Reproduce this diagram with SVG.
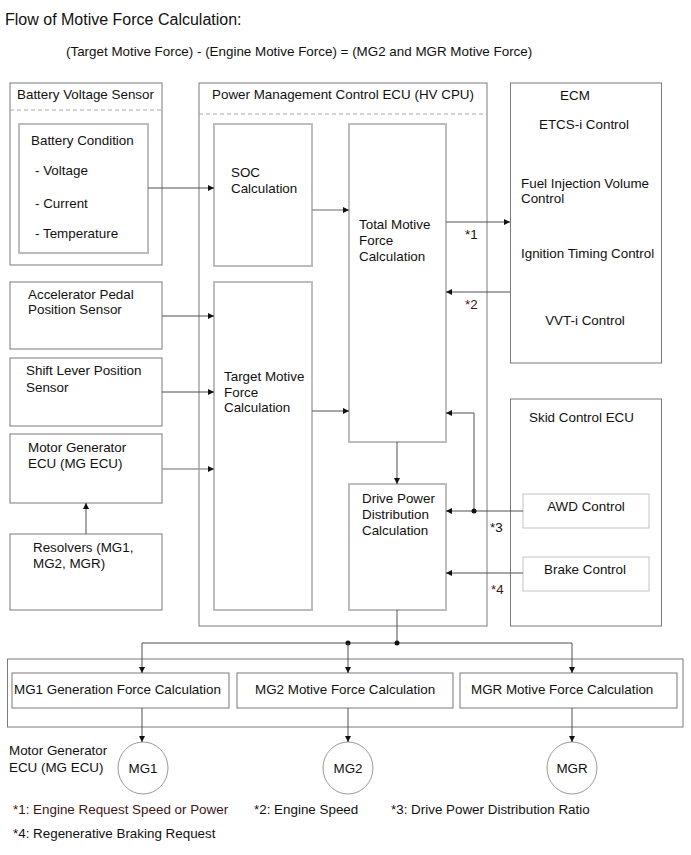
<svg xmlns="http://www.w3.org/2000/svg" width="691" height="855" viewBox="0 0 691 855">
<defs>
<style>
text{font-family:"Liberation Sans",Arial,sans-serif;font-size:13.4px;fill:#111}
.title{font-size:16px}
.mid{text-anchor:middle}
.brn{fill:#3d1616}
.outer{fill:none;stroke:#7a7a7a;stroke-width:1}
.inner{fill:none;stroke:#bdbdbd;stroke-width:2}
.light{fill:none;stroke:#c4c4c4;stroke-width:1}
.dash{fill:none;stroke:#a8a8a8;stroke-width:1;stroke-dasharray:4,3}
.ln{fill:none;stroke:#505050;stroke-width:1}
.lg{fill:none;stroke:#9a9a9a;stroke-width:1.5}
.circ{fill:none;stroke:#9a9a9a;stroke-width:1}
</style>
<marker id="ah" viewBox="0 0 10 10" refX="10" refY="5" markerWidth="9" markerHeight="6" markerUnits="userSpaceOnUse" orient="auto">
<path d="M0,0 L10,5 L0,10 z" fill="#111"/>
</marker>
</defs>
<rect width="691" height="855" fill="#fff"/>

<g id="heading">
<text class="title" x="5" y="25">Flow of Motive Force Calculation:</text>
<text x="66" y="56">(Target Motive Force) - (Engine Motive Force) = (MG2 and MGR Motive Force)</text>
</g>

<g id="battery-voltage-sensor">
<rect class="outer" x="10" y="83" width="152" height="182"/>
<line class="dash" x1="10" y1="110" x2="162" y2="110"/>
<text x="17" y="99">Battery Voltage Sensor</text>
</g>
<g id="battery-condition">
<rect class="inner" x="19" y="124" width="129" height="129"/>
<text x="31" y="145">Battery Condition</text>
<text x="35" y="175">- Voltage</text>
<text x="35" y="208">- Current</text>
<text x="35" y="238">- Temperature</text>
</g>

<g id="power-management-ecu">
<rect class="outer" x="199" y="83" width="288" height="543"/>
<line class="dash" x1="199" y1="114" x2="487" y2="114"/>
<text x="212" y="99">Power Management Control ECU (HV CPU)</text>
</g>
<g id="soc-calculation">
<rect class="inner" x="214" y="124" width="98" height="142"/>
<text x="231" y="177">SOC</text>
<text x="231" y="193">Calculation</text>
</g>
<g id="total-motive-force">
<rect class="inner" x="349" y="124" width="97" height="318"/>
<text x="359" y="229">Total Motive</text>
<text x="359" y="245">Force</text>
<text x="359" y="261">Calculation</text>
</g>
<g id="target-motive-force">
<rect class="inner" x="214" y="282" width="98" height="328"/>
<text x="224" y="381">Target Motive</text>
<text x="224" y="397">Force</text>
<text x="224" y="412">Calculation</text>
</g>
<g id="drive-power-distribution">
<rect class="inner" x="349" y="484" width="97" height="126"/>
<text x="362" y="503">Drive Power</text>
<text x="362" y="519">Distribution</text>
<text x="362" y="535">Calculation</text>
</g>

<g id="ecm">
<rect class="outer" x="510.5" y="83" width="151" height="280"/>
<text class="mid" x="575" y="100">ECM</text>
<text class="mid" x="584" y="129">ETCS-i Control</text>
<text x="521" y="188">Fuel Injection Volume</text>
<text x="521" y="203">Control</text>
<text x="521" y="258">Ignition Timing Control</text>
<text class="mid" x="585" y="325">VVT-i Control</text>
</g>

<g id="skid-control-ecu">
<rect class="outer" x="510.5" y="399" width="151" height="227"/>
<text x="529" y="422">Skid Control ECU</text>
</g>
<g id="awd-control">
<rect class="light" x="523" y="494" width="126" height="34"/>
<text class="mid" x="586" y="511">AWD Control</text>
</g>
<g id="brake-control">
<rect class="light" x="523" y="557" width="126" height="34"/>
<text class="mid" x="585" y="574">Brake Control</text>
</g>

<g id="accelerator-pedal-sensor">
<rect class="outer" x="10" y="282" width="152" height="67"/>
<text x="28" y="299">Accelerator Pedal</text>
<text x="28" y="314">Position Sensor</text>
</g>
<g id="shift-lever-sensor">
<rect class="outer" x="10" y="358" width="152" height="68"/>
<text x="26" y="375">Shift Lever Position</text>
<text x="26" y="392">Sensor</text>
</g>
<g id="mg-ecu">
<rect class="outer" x="10" y="434" width="152" height="69"/>
<text x="28" y="452">Motor Generator</text>
<text x="28" y="468">ECU (MG ECU)</text>
</g>
<g id="resolvers">
<rect class="outer" x="10" y="534" width="152" height="76"/>
<text x="33" y="552">Resolvers (MG1,</text>
<text x="33" y="568">MG2, MGR)</text>
</g>

<g id="motor-generator-ecu-group">
<rect class="outer" x="7.5" y="659" width="675.5" height="68"/>
<text x="9" y="755">Motor Generator</text>
<text x="9" y="772">ECU (MG ECU)</text>
</g>
<g id="mg1-generation">
<rect class="outer" x="12" y="673" width="217" height="35"/>
<text x="14" y="694">MG1 Generation Force Calculation</text>
</g>
<g id="mg2-motive">
<rect class="outer" x="237" y="673" width="216" height="35"/>
<text x="255" y="694">MG2 Motive Force Calculation</text>
</g>
<g id="mgr-motive">
<rect class="outer" x="460" y="673" width="217" height="35"/>
<text x="471" y="694">MGR Motive Force Calculation</text>
</g>
<g id="mg1">
<ellipse class="circ" cx="143" cy="768" rx="25" ry="26"/>
<text class="mid" x="143" y="773">MG1</text>
</g>
<g id="mg2">
<ellipse class="circ" cx="348" cy="768" rx="25" ry="26"/>
<text class="mid" x="348" y="773">MG2</text>
</g>
<g id="mgr">
<ellipse class="circ" cx="572" cy="768" rx="25" ry="26"/>
<text class="mid" x="572" y="773">MGR</text>
</g>

<g id="connectors">
<line class="ln" x1="148" y1="188" x2="214" y2="188" marker-end="url(#ah)"/>
<line class="lg" x1="312" y1="210" x2="349" y2="210" marker-end="url(#ah)"/>
<line class="ln" x1="446" y1="222" x2="510" y2="222" marker-end="url(#ah)"/>
<line class="ln" x1="510" y1="292" x2="446" y2="292" marker-end="url(#ah)"/>
<line class="ln" x1="162" y1="316" x2="214" y2="316" marker-end="url(#ah)"/>
<line class="ln" x1="162" y1="392" x2="214" y2="392" marker-end="url(#ah)"/>
<line class="lg" x1="162" y1="469" x2="214" y2="469" marker-end="url(#ah)"/>
<line class="ln" x1="86" y1="534" x2="86" y2="503" marker-end="url(#ah)"/>
<line class="ln" x1="312" y1="411" x2="349" y2="411" marker-end="url(#ah)"/>
<line class="ln" x1="397" y1="442" x2="397" y2="484" marker-end="url(#ah)"/>
<line class="ln" x1="523" y1="511" x2="446" y2="511" marker-end="url(#ah)"/>
<polyline class="ln" points="474,511 474,413 446,413" marker-end="url(#ah)"/>
<circle cx="474" cy="511" r="2.5" fill="#111"/>
<line class="ln" x1="523" y1="573" x2="446" y2="573" marker-end="url(#ah)"/>
<line class="ln" x1="397" y1="610" x2="397" y2="643"/>
<line class="ln" x1="142" y1="643" x2="572" y2="643"/>
<circle cx="348" cy="643" r="2.5" fill="#111"/>
<circle cx="397" cy="643" r="2.5" fill="#111"/>
<line class="ln" x1="142" y1="643" x2="142" y2="673" marker-end="url(#ah)"/>
<line class="ln" x1="348" y1="643" x2="348" y2="673" marker-end="url(#ah)"/>
<line class="ln" x1="572" y1="643" x2="572" y2="673" marker-end="url(#ah)"/>
<line class="ln" x1="142" y1="708" x2="142" y2="742" marker-end="url(#ah)"/>
<line class="ln" x1="348" y1="708" x2="348" y2="742" marker-end="url(#ah)"/>
<line class="ln" x1="572" y1="708" x2="572" y2="742" marker-end="url(#ah)"/>
<text x="465" y="239">*1</text>
<text class="brn" x="465" y="309">*2</text>
<text x="490" y="532">*3</text>
<text class="brn" x="491" y="594">*4</text>
</g>

<g id="footnotes">
<text class="brn" x="13" y="814">*1: Engine Request Speed or Power</text>
<text x="254" y="814">*2: Engine Speed</text>
<text x="391" y="814">*3: Drive Power Distribution Ratio</text>
<text x="13" y="838">*4: Regenerative Braking Request</text>
</g>
</svg>
